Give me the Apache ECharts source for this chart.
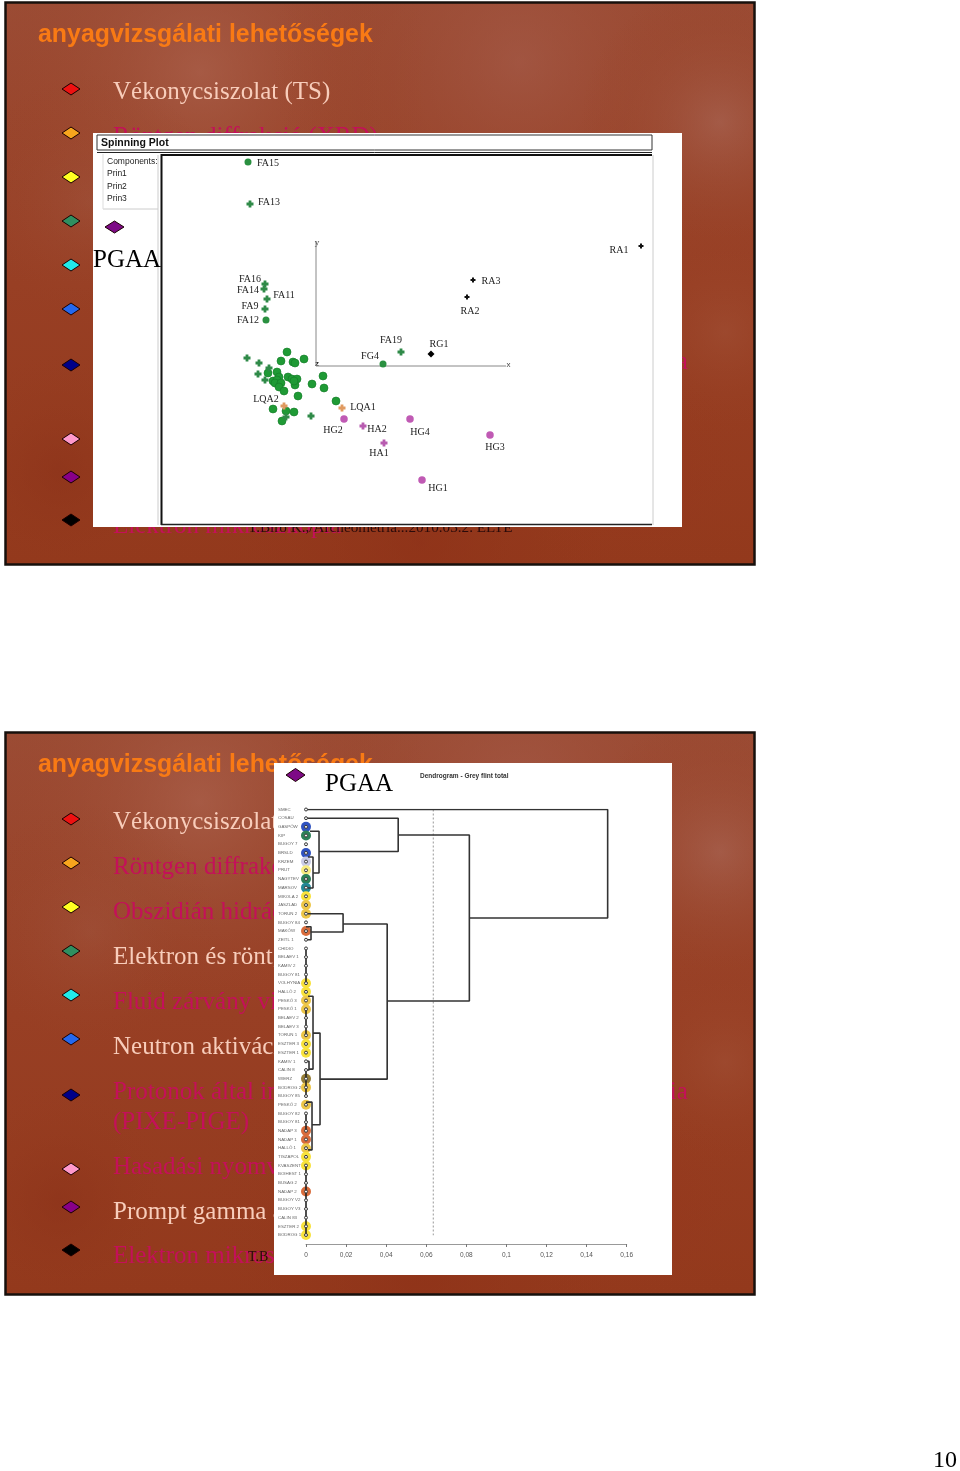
<!DOCTYPE html>
<html>
<head>
<meta charset="utf-8">
<title>anyagvizsgálati lehetőségek</title>
<script src="https://cdn.jsdelivr.net/npm/echarts@6/dist/echarts.min.js"></script>
<style>
  html, body { margin: 0; padding: 0; background: #fff; }
  #chart { width: 960px; height: 1471px; }
</style>
</head>
<body>
<div id="chart"></div>
<script>
// slide text
const slideTitle = 'anyagvizsgálati lehetőségek';
const bulletTexts = [
  'Vékonycsiszolat (TS)',
  'Röntgen diffrakció (XRD)',
  'Obszidián hidrációs kormeghatározás',
  'Elektron és röntgen mikroszkópia',
  'Fluid zárvány vizsgálat',
  'Neutron aktivációs analízis (NAA)',
  'Protonok által indukált röntgen és gamma spektroszkópia',
  '(PIXE-PIGE)',
  'Hasadási nyomvonal',
  'Prompt gamma aktivációs analízis (PGAA)',
  'Elektron mikroszkópia'
];
const bulletLit = [true, false, false, true, false, true, false, false, false, true, false];
const diamondColors = ['#ee1111', '#f7a51e', '#ffff22', '#2f8f60', '#20eaea', '#2468ee', '#000088', '#ff99cc', '#880088', '#000000'];
const sourceText = 'T.Bíró K.,/Archeometria...2010.03.2. ELTE';

// spinning plot, Prin units (origin where the x and y axes cross)
const faNames = ['FA15', 'FA12', 'FG4'];
const faValues = [[-0.68, 2.04], [-0.50, 0.46], [0.67, 0.02]];
const faPlusNames = ['FA13', 'FA16', 'FA14', 'FA11', 'FA9', 'FA19'];
const faPlusValues = [[-0.66, 1.62], [-0.51, 0.82], [-0.52, 0.77], [-0.49, 0.67], [-0.51, 0.57], [0.85, 0.14]];
const greenCloud = [
  [-0.29, 0.14], [-0.35, 0.05], [-0.12, 0.07], [-0.23, 0.04], [-0.21, 0.03], [0.07, -0.10], [-0.04, -0.18],
  [0.08, -0.22], [-0.18, -0.30], [0.20, -0.35], [-0.43, -0.43], [-0.30, -0.45], [-0.22, -0.46], [-0.34, -0.55],
  [-0.48, -0.07], [-0.39, -0.06], [-0.37, -0.11], [-0.43, -0.15], [-0.39, -0.14], [-0.41, -0.17], [-0.35, -0.17],
  [-0.37, -0.21], [-0.32, -0.25], [-0.28, -0.11], [-0.24, -0.13], [-0.19, -0.13], [-0.21, -0.19], [-0.22, -0.15]
];
const greenPlusCloud = [[-0.69, 0.08], [-0.57, 0.03], [-0.47, -0.02], [-0.58, -0.08], [-0.51, -0.14], [-0.05, -0.50], [-0.30, -0.51]];
const hgNames = ['HG2', 'HG4', 'HG3', 'HG1'];
const hgValues = [[0.28, -0.53], [0.94, -0.53], [1.74, -0.69], [1.06, -1.14]];
const haNames = ['HA2', 'HA1'];
const haValues = [[0.47, -0.60], [0.68, -0.77]];
const lqNames = ['LQA1', 'LQA2'];
const lqValues = [[0.26, -0.42], [-0.32, -0.40]];
const raNames = ['RA1', 'RA3', 'RA2'];
const raValues = [[3.25, 1.20], [1.57, 0.86], [1.51, 0.69]];
const rgNames = ['RG1'];
const rgValues = [[1.15, 0.12]];
const spinAxes = [[0, 1.24], [0, 0], [1.9, 0]];

// dendrogram
const rowNames = [
  'SMEC', 'COSAU', 'GASPÓW', 'KIP', 'BUGOY 7', 'BRSLD', 'KRZEM', 'PRUT', 'NAGYTEV', 'MARSOV',
  'MIKOLA 2', 'JÁSZLAD', 'TORUN 2', 'BUGOY 84', 'MAKÓW', 'ZEITL 1', 'CHIDIO', 'BELAEV 1', 'KAMIV 2', 'BUGOY 81',
  'VOLHYNIA', 'HÁLLÓ 2', 'PESKŐ 3', 'PESKŐ 1', 'BELAEV 2', 'BELAEV 3', 'TORUN 1', 'ESZTER 3', 'ESZTER 1', 'KAMIV 1',
  'CALIN 8', 'WIERZ', 'BODROG 2', 'BUGOY 85', 'PESKŐ 2', 'BUGOY 82', 'BUGOY 81', 'NADAP 3', 'NADAP 1', 'HÁLLÓ 1',
  'TISZAPOL', 'KVASZENT', 'BOIHEST 1', 'BUSAG 2', 'NADAP 2', 'BUGOY V2', 'BUGOY V3', 'CALIN 83', 'ESZTER 2', 'BODROG 1'
];
const rowHalo = [
  '', '', 'blue', 'green', '', 'blue', 'lilac', 'pale', 'green', 'teal',
  'yellow', 'gold', 'gold', '', 'orange', '', '', '', '', '',
  'yellow', 'yellow', 'gold', 'gold', '', '', 'gold', 'yellow', 'yellow', '',
  '', 'olive', 'gold', '', 'gold', '', '', 'orange', 'orange', 'gold',
  'yellow', 'yellow', '', '', 'orange', '', '', '', 'yellow', 'yellow'
];
// [rowA, heightA, rowB, heightB, joinHeight]
const merges = [
  [0, 0, 12.5, 0.0815, 0.1505],
  [2.94, 0.046, 22.06, 0.0405, 0.0815],
  [1, 0, 4.84, 0.0065, 0.046],
  [2.5, 0.002, 7.32, 0.0035, 0.0065],
  [5.47, 0.001, 9.04, 0.001, 0.0035],
  [13.19, 0.0185, 31.05, 0.007, 0.0405],
  [12, 0.001, 14.1, 0.0025, 0.0185],
  [25.75, 0.0035, 36.3, 0.003, 0.007],
  [21.5, 0.001, 29.9, 0.0015, 0.0035],
  [33.7, 0, 39.2, 0.001, 0.003],
  [13.5, 0, 15, 0, 0.0025],
  [29, 0, 30, 0, 0.0015]
];
const chains = [[16, 20], [23, 26], [30, 33], [35, 37], [41, 49]];
const cutHeight = 0.0635;
const dendroTicks = [0, 0.16];

const haloColors = {
  blue: '#2f52c0', green: '#2c8058', teal: '#238896', lilac: '#c9cbe6', pale: '#f7ec80',
  yellow: '#f8e23c', gold: '#edc648', orange: '#d96c3c', olive: '#957e38'
};
const labelOffsets = {
  FA15: [20, 1], FA13: [19, -2], FA16: [-15, -5], FA14: [-16, 1], FA11: [17, -4], FA9: [-15, -3], FA12: [-18, 0],
  FA19: [-10, -12], FG4: [-13, -8], RG1: [8, -10], RA1: [-22, 4], RA3: [18, 1], RA2: [3, 14], LQA1: [21, -1],
  LQA2: [-18, -7], HG2: [-11, 11], HA2: [14, 3], HG4: [10, 13], HG3: [5, 12], HA1: [-5, 10], HG1: [16, 8]
};

const PLUS = 'path://M3 0h4v3h3v4H7v3H3V7H0V3h3z';
const serif = '"Liberation Serif", serif';
const sans = '"Liberation Sans", sans-serif';

function rect(x, y, w, h, fill, stroke, lineWidth) {
  return {
    type: 'rect', silent: true, shape: { x: x, y: y, width: w, height: h },
    style: { fill: fill, stroke: stroke || null, lineWidth: lineWidth || 0 }
  };
}
function text(s, x, y, font, fill, align) {
  return { type: 'text', silent: true, style: { text: s, x: x, y: y, font: font, fill: fill, textAlign: align || 'left', textVerticalAlign: 'middle' } };
}
function hline(x1, y1, x2, y2, color, w) {
  return { type: 'line', silent: true, shape: { x1: x1, y1: y1, x2: x2, y2: y2 }, style: { stroke: color, lineWidth: w } };
}
function diamond(cx, cy, hw, hh, fill) {
  return {
    type: 'polygon', silent: true,
    shape: { points: [[cx - hw, cy], [cx, cy - hh], [cx + hw, cy], [cx, cy + hh]] },
    style: { fill: fill, stroke: '#1a0000', lineWidth: 1 }
  };
}

const bulletY = [87, 131, 175, 219, 263, 307, 363, 437, 475, 518];
const textY = [90.5, 135.5, 180.5, 225.5, 270.5, 315.5, 360.5, 390.5, 435.5, 480.5, 524];
// mottled slide texture: [cx, cy, r, colour]
const blobs = [
  [200, 70, 230, 'rgba(176,104,84,0.55)'], [520, 60, 250, 'rgba(168,96,80,0.5)'], [720, 120, 140, 'rgba(170,104,88,0.6)'],
  [90, 200, 130, 'rgba(165,95,75,0.3)'], [725, 330, 110, 'rgba(165,88,62,0.4)'], [60, 470, 120, 'rgba(138,48,24,0.5)'],
  [420, 540, 260, 'rgba(140,46,22,0.5)'], [640, 480, 120, 'rgba(150,52,28,0.4)']
];

function slide(top) {
  const els = [];
  els.push(rect(5.5, top + 0.5, 749, 562, {
    type: 'linear', x: 0, y: 0, x2: 0, y2: 1,
    colorStops: [{ offset: 0, color: '#9b4c35' }, { offset: 0.5, color: '#983f24' }, { offset: 1, color: '#93391c' }]
  }));
  blobs.forEach(b => {
    els.push(rect(7, top + 2, 746, 559, {
      type: 'radial', global: true, x: b[0], y: top + b[1], r: b[2],
      colorStops: [{ offset: 0, color: b[3] }, { offset: 1, color: 'rgba(150,60,30,0)' }]
    }));
  });
  els.push(rect(5.5, top + 0.5, 749, 562, 'rgba(0,0,0,0)', '#17100c', 2.5));
  els.push(text(slideTitle, 38, top + 33.5, 'bold 24.9px ' + sans, '#f97a14'));
  bulletTexts.forEach((t, i) => {
    els.push(text(t, 113, top + textY[i], '25px ' + serif, bulletLit[i] ? '#f8cdbb' : '#c4105a'));
  });
  bulletY.forEach((y, i) => els.push(diamond(71, top + y, 9, 6, diamondColors[i])));
  return els;
}

const graphics = [];
// slide 1
graphics.push(...slide(2));
graphics.push(text(sourceText, 248, 528, '15.2px ' + serif, '#2a0a0a'));
graphics.push(rect(93, 133, 589, 394, '#ffffff'));
graphics.push(rect(97, 135, 555, 15, '#ffffff', '#333', 1));
graphics.push(text('Spinning Plot', 101, 143, 'bold 10.5px ' + sans, '#111'));
graphics.push(hline(97, 152.5, 652, 152.5, '#222', 1));
graphics.push(hline(103, 209, 158, 209, '#ccc', 1));
graphics.push(hline(103, 154, 103, 209, '#ddd', 1));
graphics.push(hline(158, 155, 158, 525, '#ccc', 1));
graphics.push(text('Components:', 107, 162, '8.5px ' + sans, '#222'));
graphics.push(text('Prin1', 107, 174, '8.5px ' + sans, '#222'));
graphics.push(text('Prin2', 107, 187, '8.5px ' + sans, '#222'));
graphics.push(text('Prin3', 107, 199, '8.5px ' + sans, '#222'));
graphics.push(diamond(114.5, 227, 9.5, 6, '#7d0a86'));
graphics.push(text('PGAA', 93, 260, '25px ' + serif, '#000'));
graphics.push(hline(161.5, 154, 161.5, 525, '#111', 2));
graphics.push(hline(161, 155, 652, 155, '#111', 2));
graphics.push(hline(161, 524.5, 652, 524.5, '#222', 1.5));
graphics.push(hline(653, 155, 653, 525, '#ccc', 1));
graphics.push(text('y', 317, 243, '9px ' + serif, '#222', 'center'));
graphics.push(text('z', 317, 364, 'bold 8px ' + sans, '#222', 'center'));
graphics.push(text('x', 508.5, 365, '8px ' + sans, '#444', 'center'));
// slide 2
graphics.push(...slide(732));
graphics.push(text('T.B', 248, 1257, '14px ' + serif, '#2a0a0a'));
graphics.push(rect(274, 763, 398, 512, '#ffffff'));
graphics.push(diamond(295.5, 775, 9.5, 6.5, '#7d0a86'));
graphics.push(text('PGAA', 325, 784, '25px ' + serif, '#000'));
graphics.push(text('Dendrogram - Grey flint total', 420, 776, 'bold 6.5px ' + sans, '#333'));
graphics.push(text('10', 945, 1461, '24px ' + serif, '#000', 'center'));

function named(names, values) {
  return names.map((n, i) => ({
    name: n, value: values[i],
    label: { show: true, formatter: n, position: 'inside', offset: labelOffsets[n], color: '#222', fontSize: 10, fontFamily: serif }
  }));
}
function spinSeries(data, symbol, size, color, border) {
  return {
    type: 'scatter', xAxisIndex: 0, yAxisIndex: 0, data: data, symbol: symbol, symbolSize: size,
    itemStyle: { color: color, opacity: 1, borderColor: border || color, borderWidth: border ? 0.6 : 0 }, silent: true
  };
}

const mergeSeries = merges.map(m => ({
  type: 'line', xAxisIndex: 1, yAxisIndex: 1, showSymbol: false, silent: true, z: 3,
  data: [[m[1], m[0]], [m[4], m[0]], [m[4], m[2]], [m[3], m[2]]],
  lineStyle: { color: '#333', width: 1.6 }
}));
const chainSeries = chains.map(c => ({
  type: 'line', xAxisIndex: 1, yAxisIndex: 1, showSymbol: false, silent: true, z: 3,
  data: [[0, c[0]], [0, c[1]]],
  lineStyle: { color: '#222', width: 1.6 }
}));

const option = {
  animation: false,
  backgroundColor: '#ffffff',
  graphic: { elements: graphics },
  grid: [
    { left: 162, top: 155, width: 490, height: 370 },
    { left: 306, top: 809.5, width: 320.7, height: 425.5 }
  ],
  xAxis: [
    { type: 'value', gridIndex: 0, min: -1.54, max: 3.36, show: false },
    {
      type: 'value', gridIndex: 1, min: dendroTicks[0], max: dendroTicks[1], interval: 0.02, offset: 9,
      position: 'bottom', splitLine: { show: false },
      axisLine: { show: true, onZero: false, lineStyle: { color: '#999', width: 1 } },
      axisTick: { show: true, length: 3, inside: false, lineStyle: { color: '#777' } },
      axisLabel: {
        color: '#555', fontSize: 6.5, fontFamily: sans, margin: 8,
        formatter: v => String(+v.toFixed(2)).replace('.', ',')
      }
    }
  ],
  yAxis: [
    { type: 'value', gridIndex: 0, min: -1.59, max: 2.11, show: false },
    {
      type: 'value', gridIndex: 1, inverse: true, min: 0, max: rowNames.length - 1, interval: 1,
      splitLine: { show: false }, axisLine: { show: false }, axisTick: { show: false },
      axisLabel: {
        color: '#666', fontSize: 4.4, fontFamily: sans, align: 'left', margin: 28,
        formatter: v => rowNames[v]
      }
    }
  ],
  series: [
    {
      type: 'line', xAxisIndex: 0, yAxisIndex: 0, data: spinAxes, showSymbol: false, silent: true, z: 1,
      lineStyle: { color: '#888', width: 1 }
    },
    spinSeries(greenCloud, 'circle', 8, '#1f9a35', '#127a26'),
    spinSeries(greenPlusCloud, PLUS, 7, '#2f8a48'),
    spinSeries(named(faNames, faValues), 'circle', 7, '#2a9040'),
    spinSeries(named(faPlusNames, faPlusValues), PLUS, 7, '#2f8a48'),
    spinSeries(named(hgNames, hgValues), 'circle', 7.5, '#c05ab4'),
    spinSeries(named(haNames, haValues), PLUS, 7, '#b85cb0'),
    spinSeries(named(lqNames, lqValues), PLUS, 7, '#e09a60'),
    spinSeries(named(raNames, raValues), PLUS, 5, '#111'),
    spinSeries(named(rgNames, rgValues), 'diamond', 7, '#000'),
    {
      type: 'line', xAxisIndex: 1, yAxisIndex: 1, showSymbol: false, silent: true, z: 1,
      data: [[cutHeight, 0], [cutHeight, rowNames.length - 1 + 0.3]],
      lineStyle: { color: '#999', width: 1, type: [2, 2] }
    },
    {
      type: 'scatter', xAxisIndex: 1, yAxisIndex: 1, silent: true, symbolSize: 10, z: 2,
      data: rowHalo.map((h, i) => ({ value: [0, i], itemStyle: { opacity: 1, color: haloColors[h] || 'rgba(0,0,0,0)' } }))
    },
    ...mergeSeries,
    ...chainSeries,
    {
      type: 'scatter', xAxisIndex: 1, yAxisIndex: 1, silent: true, symbolSize: 3, z: 4,
      data: rowNames.map((n, i) => [0, i]),
      itemStyle: { color: '#f4f4f4', borderColor: '#3a3a3a', borderWidth: 1, opacity: 1 }
    }
  ]
};

const myChart = echarts.init(document.getElementById('chart'), null, { renderer: 'canvas' });
myChart.setOption(option);
</script>
</body>
</html>
